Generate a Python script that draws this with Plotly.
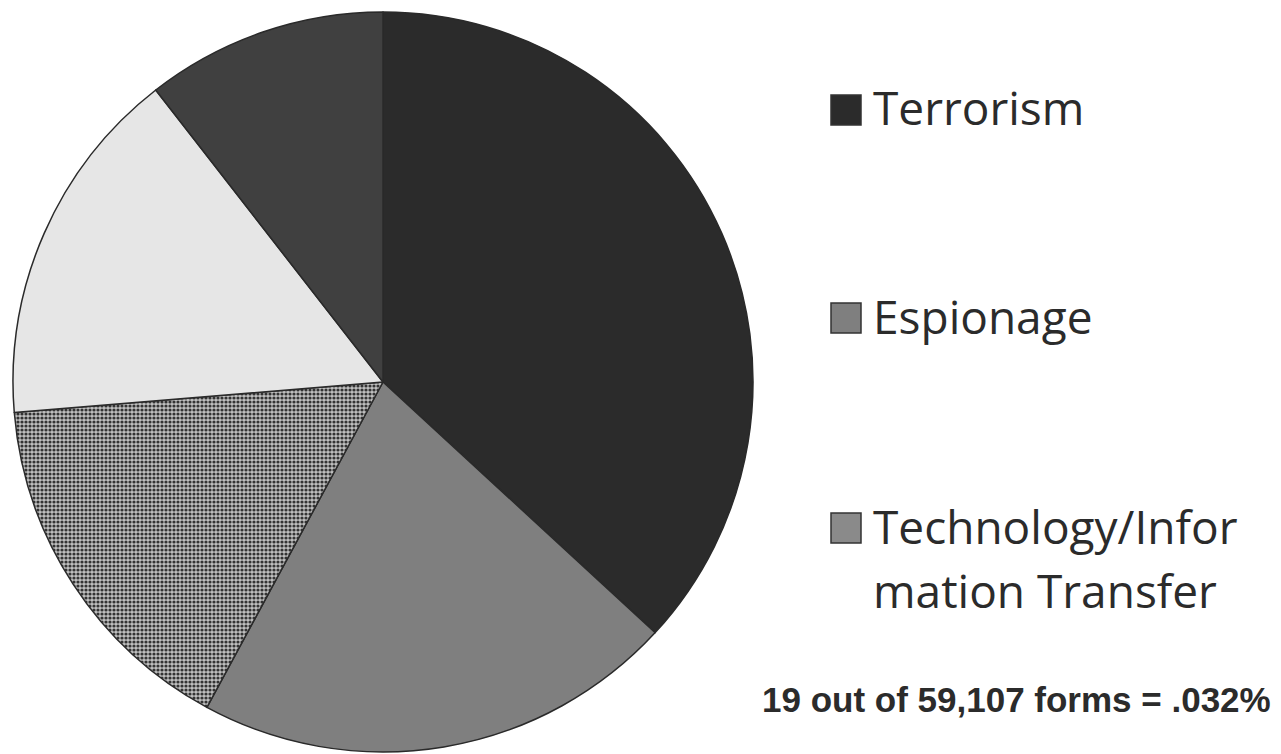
import plotly.graph_objects as go

W, H = 1281, 754

categories = ["Terrorism", "Espionage", "Technology/Information Transfer", "Other A", "Other B"]
counts = [7, 4, 3, 3, 2]
slice_colors = ["#2b2b2b", "#7f7f7f", "#bdbdbd", "#e6e6e6", "#404040"]
legend_labels = ["Terrorism", "Espionage", "Technology/Infor", "mation Transfer"]
note_text = "19 out of 59,107 forms = .032%"

def px_x(x):
    return x / W

def px_y(y):
    return 1 - y / H

fig = go.Figure()
fig.add_trace(go.Pie(
    labels=categories,
    values=counts,
    sort=False,
    direction="clockwise",
    rotation=0,
    textinfo="none",
    hoverinfo="label+value",
    showlegend=False,
    marker=dict(
        colors=slice_colors,
        line=dict(color="#2a2a2a", width=1.5),
        pattern=dict(
            shape=["", "", ".", "", ""],
            fgcolor="#333333",
            bgcolor="#c0c0c0",
            size=4,
            solidity=0.5,
            fillmode="replace",
        ),
    ),
    domain=dict(x=[px_x(13), px_x(753)], y=[px_y(752), px_y(12)]),
))

# manual legend
square_rows = [110, 318, 528]
square_fill = ["#2b2b2b", "#7f7f7f", "#8a8a8a"]
text_rows = [107, 316, 526, 590]
shapes = []
annotations = []
for yc, fc in zip(square_rows, square_fill):
    shapes.append(dict(
        type="rect", xref="paper", yref="paper",
        x0=px_x(831), x1=px_x(861), y0=px_y(yc + 15), y1=px_y(yc - 15),
        fillcolor=fc, line=dict(color="#333333", width=1.5),
    ))
for lbl, yc in zip(legend_labels, text_rows):
    annotations.append(dict(
        x=px_x(871), y=px_y(yc), xref="paper", yref="paper",
        xanchor="left", yanchor="middle",
        text=lbl, showarrow=False, align="left",
        font=dict(family="Open Sans", size=46, color="#2b2b2b"),
    ))

annotations.append(dict(
    x=px_x(1273), y=px_y(699), xref="paper", yref="paper",
    xanchor="right", yanchor="middle",
    text="<b>" + note_text + "</b>", showarrow=False,
    font=dict(family="Liberation Sans, Arial", size=35, color="#2b2b2b"),
))

fig.update_layout(
    width=W, height=H,
    margin=dict(l=0, r=0, t=0, b=0),
    paper_bgcolor="white",
    plot_bgcolor="white",
    shapes=shapes,
    annotations=annotations,
)

fig.write_html("out.html")
